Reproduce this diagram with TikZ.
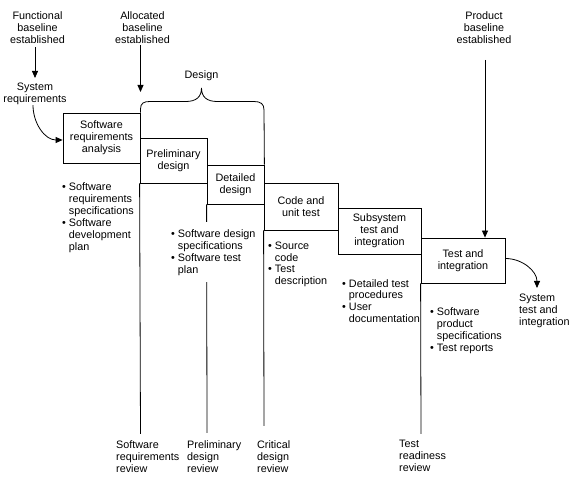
\documentclass[tikz,border=0pt]{standalone}
\usepackage{fontspec}
\setmainfont{Liberation Sans}
\usetikzlibrary{arrows.meta}
\newcommand\blt{\textbullet\ }
\newcommand\bind{\phantom{\textbullet\ }}
\begin{document}
\begin{tikzpicture}[x=1pt,y=-1pt,
  every node/.style={font=\fontsize{10.8}{12}\selectfont},
  box/.style={draw, line width=0.8pt, align=center, inner sep=0pt},
  lbl/.style={align=center, inner sep=0pt},
  lst/.style={align=left, inner sep=1pt, anchor=north west},
  arr/.style={line width=0.8pt, -{Triangle[length=7pt,width=6pt]}},
  ln/.style={line width=0.8pt}]
\useasboundingbox (0,0) rectangle (582,486);

% boxes
\node[box, minimum width=77pt, minimum height=50pt] (b1) at (101.5,138) {Software\\requirements\\analysis};
\node[box, minimum width=67pt, minimum height=45pt] (b2) at (173.5,160.5) {Preliminary\\design};
\node[box, minimum width=57pt, minimum height=39pt] (b3) at (235.5,184.5) {Detailed\\design};
\node[box, minimum width=74pt, minimum height=47pt] (b4) at (301,206.5) {Code and\\unit test};
\node[box, minimum width=83pt, minimum height=46pt] (b5) at (379.5,231) {Subsystem\\test and\\integration};
\node[box, minimum width=84pt, minimum height=45pt] (b6) at (463,260.5) {Test and\\integration};

% review coordinates
\coordinate (r1) at (140.5,434);
\coordinate (r2) at (207,433);
\coordinate (r3) at (264,426);
\coordinate (r4) at (421,434);

\draw[ln] (b2.south west) -- (r1);
\draw[ln] (b3.south west) -- (r2);
\draw[ln] (b4.south west) -- (r3);
\draw[ln] (b6.south west) -- (r4);

% top labels
\node[lbl, anchor=north] (fb) at (37.5,11) {Functional\\baseline\\established};
\node[lbl, anchor=north] (sr) at (35,83) {System\\requirements};
\node[lbl, anchor=north] (al) at (142.5,11) {Allocated\\baseline\\established};
\node[lbl, anchor=north] (pb) at (484,11) {Product\\baseline\\established};
\node[lbl, anchor=base] (ds) at (201.5,79) {Design};

\coordinate (altip) at (140.5,92);
\coordinate (pstart) at (485,60);
\coordinate (sttip) at (537,288);

\draw[arr, shorten <=4pt, shorten >=5pt] (fb.south -| sr.north) -- (sr.north);
\draw[arr] ([xshift=-2pt]sr.south) to[out=-90,in=180] ([yshift=-2pt]b1.west);
\draw[arr, shorten <=2pt] (al.south -| altip) -- (altip);
\draw[arr] (pstart) -- (pstart |- b6.north);
\draw[arr] ([yshift=2pt]b6.east) to[out=0,in=90] (sttip);

% brace
\draw[ln] (b1.north east) -- (140.5,109) .. controls (140.5,103) and (144,101.5) .. (150,101.5)
  -- (186,101.5) .. controls (196,101.5) and (201.5,97) .. (201.5,88)
  .. controls (201.5,97) and (207,101.5) .. (217,101.5)
  -- (254,101.5) .. controls (261,101.5) and (264,104) .. (264,110) -- (b3.north east);

% lists
\node[lst] (t1) at (61,181) {\blt Software\\\bind requirements\\\bind specifications\\\blt Software\\\bind development\\\bind plan};
\node[lst, fill=white, inner xsep=2pt, inner ysep=7pt] (t2) at (169,222) {\blt Software design\\\bind specifications\\\blt Software test\\\bind plan};
\node[lst, font=\fontsize{10.8}{11.5}\selectfont] (t3) at (267,241) {\blt Source\\\bind code\\\blt Test\\\bind description};
\node[lst, font=\fontsize{10.8}{11.7}\selectfont] (t4) at (341,278) {\blt Detailed test\\\bind procedures\\\blt User\\\bind documentation};
\node[lst, font=\fontsize{10.8}{12.3}\selectfont] (t5) at (429,306) {\blt Software\\\bind product\\\bind specifications\\\blt Test reports};
\node[lst] (st) at (518,293) {System\\test and\\integration};

% reviews
\node[lst] (v1) at (115,439) {Software\\requirements\\review};
\node[lst] (v2) at (186,439) {Preliminary\\design\\review};
\node[lst] (v3) at (256,439) {Critical\\design\\review};
\node[lst] (v4) at (398,439) {Test\\readiness\\review};
\end{tikzpicture}
\end{document}
